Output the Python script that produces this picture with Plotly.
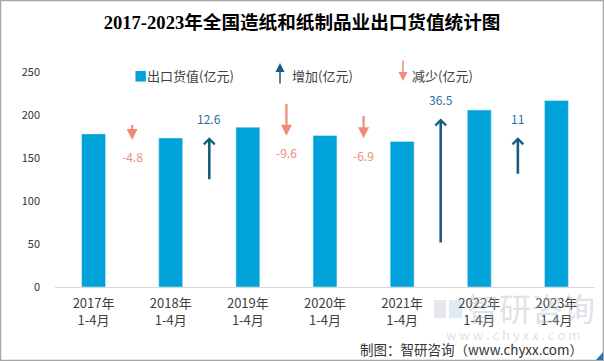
import plotly.graph_objects as go

# ---------------- data ----------------
categories = ["2017年<br>1-4月", "2018年<br>1-4月", "2019年<br>1-4月", "2020年<br>1-4月",
              "2021年<br>1-4月", "2022年<br>1-4月", "2023年<br>1-4月"]
export_values = [178.0, 173.2, 185.8, 176.2, 169.3, 205.8, 216.8]   # 出口货值(亿元)
changes = [-4.8, 12.6, -9.6, -6.9, 36.5, 11]                         # 增加/减少(亿元)
change_labels = ["-4.8", "12.6", "-9.6", "-6.9", "36.5", "11"]
arrow_head_levels = [171, 174, 176, 173, 196, 174]
y_ticks = [0, 50, 100, 150, 200, 250]

# ---------------- styles ----------------
BAR = "#00A2DA"
UP = "#155E7C"
UP_TXT = "#1F6FA3"
DOWN = "#F08C76"
CJK = "Microsoft YaHei, Noto Sans CJK SC, sans-serif"

W, H = 604, 361
L, R, T, B = 55, 9, 72, 74
PW, PH = W - L - R, H - T - B


def px(x):
    return (x - L) / PW


def py(y):
    return (H - B - y) / PH


fig = go.Figure()
fig.add_trace(go.Bar(
    x=list(range(len(categories))), y=export_values, width=0.31,
    marker_color=BAR, name="出口货值(亿元)", showlegend=False, hoverinfo="skip",
))

ann = []
shapes = []

# watermark (drawn first so that it stays behind)
WM = "rgba(170,178,192,0.40)"
ann.append(dict(x=px(531), y=py(307), xref="paper", yref="paper", showarrow=False,
                xanchor="center", yanchor="middle",
                text="智研咨询", font=dict(family=CJK, size=32, color=WM)))
ann.append(dict(x=px(513), y=py(334), xref="paper", yref="paper", showarrow=False,
                xanchor="center", yanchor="middle",
                text="w w w . c h y x x . c o m",
                font=dict(family=CJK, size=13, color=WM)))
shapes.append(dict(type="rect", xref="paper", yref="paper", x0=px(434), x1=px(446),
                   y0=py(318), y1=py(300), line=dict(width=0), fillcolor="rgba(150,160,180,0.25)",
                   layer="below"))
shapes.append(dict(type="rect", xref="paper", yref="paper", x0=px(449), x1=px(462),
                   y0=py(318), y1=py(300), line=dict(width=0), fillcolor="rgba(120,180,220,0.25)",
                   layer="below"))

ARROW_SCALE = 4  # arrow length in data units per unit of change
for i, (c, lab, head) in enumerate(zip(changes, change_labels, arrow_head_levels)):
    xm = i + 0.5
    tail = head - ARROW_SCALE * c
    up = c > 0
    ann.append(dict(
        x=xm, y=head, ax=xm, ay=tail, xref="x", yref="y", axref="x", ayref="y",
        text="", showarrow=True, arrowcolor=UP if up else DOWN,
        arrowhead=4 if up else 2, arrowwidth=2.6 if up else 2.2,
        arrowsize=0.8 if up else 1.0, standoff=0, startstandoff=0,
    ))
    ann.append(dict(
        x=xm, y=head, xref="x", yref="y", text=lab, showarrow=False,
        yshift=19 if up else -17,
        font=dict(family=CJK, size=12, color=UP_TXT if up else DOWN),
    ))

# legend (manual)
leg_y = py(75.5)
ann.append(dict(x=px(132), y=leg_y, xref="paper", yref="paper", xanchor="left", yanchor="middle",
                showarrow=False,
                text=f"<span style='color:{BAR}'>■</span>出口货值(亿元)",
                font=dict(family=CJK, size=13, color="#404040")))
ann.append(dict(x=px(280), y=py(63), xref="paper", yref="paper", ax=0, ay=22,
                text="", showarrow=True, arrowhead=2, arrowwidth=1.5, arrowsize=1.2,
                arrowcolor=UP, standoff=0))
ann.append(dict(x=px(290), y=leg_y, xref="paper", yref="paper", xanchor="left", yanchor="middle",
                showarrow=False, text="增加(亿元)",
                font=dict(family=CJK, size=13, color="#404040")))
ann.append(dict(x=px(403), y=py(81), xref="paper", yref="paper", ax=0, ay=-22,
                text="", showarrow=True, arrowhead=2, arrowwidth=1.5, arrowsize=1.2,
                arrowcolor=DOWN, standoff=0))
ann.append(dict(x=px(410), y=leg_y, xref="paper", yref="paper", xanchor="left", yanchor="middle",
                showarrow=False, text="减少(亿元)",
                font=dict(family=CJK, size=13, color="#404040")))

# source
ann.append(dict(x=px(585), y=py(349), xref="paper", yref="paper", showarrow=False,
                text="制图：智研咨询（www.chyxx.com）", xanchor="right", yanchor="middle",
                font=dict(family=CJK, size=13.5, color="#333333")))

# border
shapes.append(dict(type="rect", xref="paper", yref="paper", x0=px(0.5), x1=px(603.5),
                   y0=py(360.5), y1=py(0.5), line=dict(color="#A6A6A6", width=1.5),
                   fillcolor="rgba(0,0,0,0)", layer="above"))
shapes.append(dict(type="path", xref="paper", yref="paper",
                   path=f"M {px(603)} {py(352)} L {px(603)} {py(360)} L {px(596)} {py(360)} Z",
                   fillcolor="#2E75B6", line=dict(width=0)))

fig.update_layout(
    width=W, height=H, margin=dict(l=L, r=R, t=T, b=B),
    plot_bgcolor="white", paper_bgcolor="white", hovermode=False,
    title=dict(text="2017-2023年全国造纸和纸制品业出口货值统计图",
               x=302 / W, xref="container", xanchor="center",
               y=1 - 22 / H, yref="container", yanchor="middle",
               font=dict(family="Liberation Serif, Noto Sans CJK SC, serif", size=18.6,
                         color="black", weight="bold")),
    xaxis=dict(tickmode="array", tickvals=list(range(len(categories))), ticktext=categories,
               range=[-0.5, len(categories) - 0.5], showgrid=False, zeroline=False,
               showline=True, linecolor="#D9D9D9", linewidth=1, ticks="",
               ticklabelstandoff=4,
               tickfont=dict(family=CJK, size=13, color="#404040")),
    yaxis=dict(range=[0, 250], tickvals=y_ticks, showgrid=False, zeroline=False,
               showline=False, ticks="", ticklabelstandoff=14,
               tickfont=dict(family=CJK, size=11, color="#333333")),
    annotations=ann, shapes=shapes, showlegend=False,
)

fig.write_html("out.html", config={"displayModeBar": False},
               post_script="document.body.style.margin='0';document.body.style.overflow='hidden';")
